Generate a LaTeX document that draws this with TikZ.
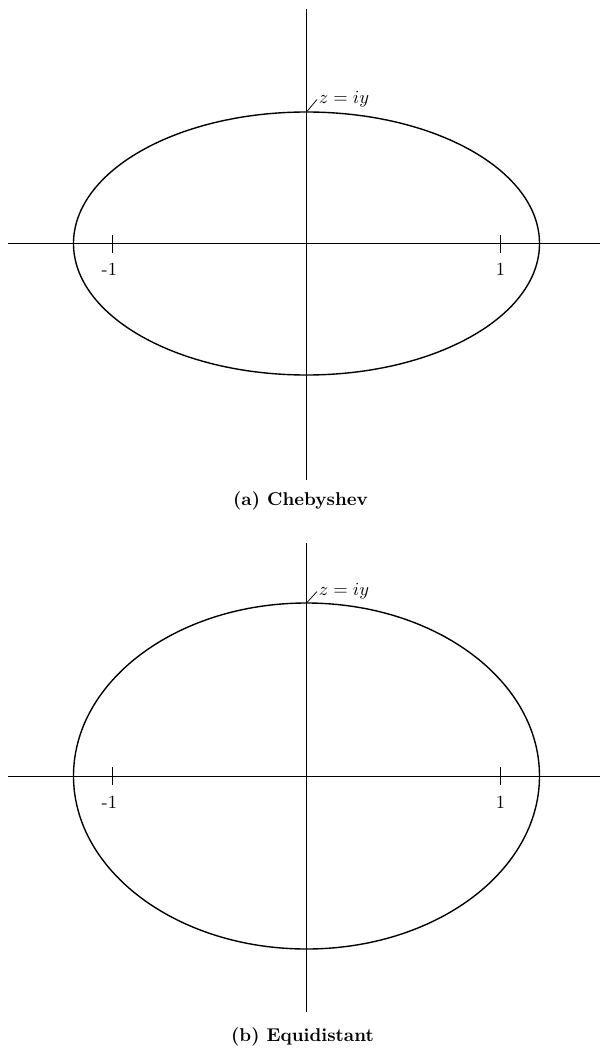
\documentclass[tikz,border=0pt]{standalone}
\usepackage{amsmath}
\usepackage{tikz}
\usetikzlibrary{positioning}

\begin{document}
\begin{tikzpicture}[x=0.019cm, y=0.019cm,
    axisline/.style={black, line width=0.4pt},
    curveline/.style={black, line width=0.75pt},
    tickmark/.style={black, line width=0.4pt},
    ticklabel/.style={inner sep=0pt},
    zlabel/.style={anchor=west, inner sep=0.8pt},
    subcap/.style={font=\bfseries, inner sep=0pt}]
  \useasboundingbox (-306.5,243.5) rectangle (293.5,-804.5);

  % (a) Chebyshev
  \draw[axisline] (-298.5,0) -- (293.5,0);
  \draw[axisline] (0,234) -- (0,-236.5);
  \draw[curveline] (0,0) ellipse (233 and 131.5);
  \draw[tickmark] (-194,-9) -- (-194,9);
  \draw[tickmark] (194,-9) -- (194,9);
  \node[ticklabel] (mOneA) at (-194,-26) {\llap{-}1};
  \node[ticklabel] (pOneA) at (194,-26) {1};
  \coordinate (topA) at (0,131.5);
  \node[zlabel] (lblA) at (10.5,144) {$z=iy$};
  \draw[axisline] (topA) -- (lblA.west);
  \node[subcap] (capA) at (-6,-257.5) {(a)\ Chebyshev};

  % (b) Equidistant
  \begin{scope}[shift={(0,-532.5)}]
    \draw[axisline] (-298.5,0) -- (293.5,0);
    \draw[axisline] (0,233.5) -- (0,-236);
    \draw[curveline] (0,0) ellipse (233 and 173);
    \draw[tickmark] (-194,-9) -- (-194,9);
    \draw[tickmark] (194,-9) -- (194,9);
    \node[ticklabel] (mOneB) at (-194,-26) {\llap{-}1};
    \node[ticklabel] (pOneB) at (194,-26) {1};
    \coordinate (topB) at (0,173);
    \node[zlabel] (lblB) at (10.5,184.5) {$z=iy$};
    \draw[axisline] (topB) -- (lblB.west);
    \node[subcap] (capB) at (-4,-261) {(b)\ Equidistant};
  \end{scope}
\end{tikzpicture}
\end{document}
